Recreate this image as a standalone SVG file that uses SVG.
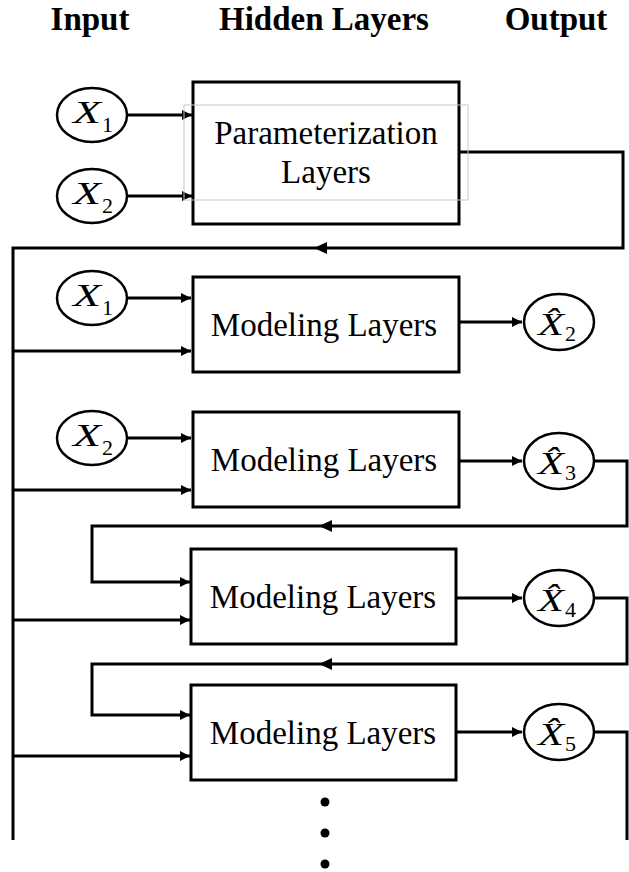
<svg xmlns="http://www.w3.org/2000/svg" width="629" height="872" viewBox="0 0 629 872">
<style>
.box{fill:#fff;stroke:#000;stroke-width:3}
.node{fill:#fff;stroke:#000;stroke-width:2.5}
.ln{fill:none;stroke:#000;stroke-width:3}
.hdr{font-family:"Liberation Serif","Times New Roman",serif;font-weight:bold;font-size:33px;text-anchor:middle}
.lbl{font-family:"Liberation Serif","Times New Roman",serif;font-size:33px;text-anchor:middle}
.mx{font-family:"Liberation Serif","Times New Roman",serif;font-style:italic;font-size:32px}
.sub{font-family:"Liberation Serif","Times New Roman",serif;font-size:22px}
</style>
<defs>
<marker id="ah" viewBox="0 0 10 10" refX="10" refY="5" markerWidth="12" markerHeight="10" markerUnits="userSpaceOnUse" orient="auto">
<path d="M0,0 L10,5 L0,10 z" fill="#000"/>
</marker>
</defs>
<rect width="629" height="872" fill="#fff"/>
<g id="headers">
<text class="hdr" x="90" y="30">Input</text>
<text class="hdr" x="324" y="30">Hidden Layers</text>
<text class="hdr" x="556" y="30">Output</text>
</g>
<g id="connectors">
<path class="ln" d="M128,115 H192" marker-end="url(#ah)"/>
<path class="ln" d="M128,196 H192" marker-end="url(#ah)"/>
<path class="ln" d="M459,152 H623 V248 H13 V840"/>
<polygon points="314,248 327,242 327,254" fill="#000"/>
<path class="ln" d="M128,298 H191" marker-end="url(#ah)"/>
<path class="ln" d="M13,351 H191" marker-end="url(#ah)"/>
<path class="ln" d="M459,322 H522" marker-end="url(#ah)"/>
<path class="ln" d="M128,438 H191" marker-end="url(#ah)"/>
<path class="ln" d="M13,490 H191" marker-end="url(#ah)"/>
<path class="ln" d="M459,461 H522" marker-end="url(#ah)"/>
<path class="ln" d="M595,461 H627 V526 H92 V582 H190" marker-end="url(#ah)"/>
<polygon points="319,526 332,520 332,532" fill="#000"/>
<path class="ln" d="M13,620 H190" marker-end="url(#ah)"/>
<path class="ln" d="M456,598 H522" marker-end="url(#ah)"/>
<path class="ln" d="M595,598 H627 V664 H92 V715 H190" marker-end="url(#ah)"/>
<polygon points="319,664 332,658 332,670" fill="#000"/>
<path class="ln" d="M13,756 H190" marker-end="url(#ah)"/>
<path class="ln" d="M456,732 H522" marker-end="url(#ah)"/>
<path class="ln" d="M595,732 H627 V840"/>
</g>
<g id="param">
<rect class="box" x="193" y="82" width="266" height="142"/>
<rect x="184" y="105" width="284" height="95" fill="none" stroke="#c8c8c8" stroke-width="1"/>
<text class="lbl" x="326" y="144">Parameterization</text>
<text class="lbl" x="326" y="183">Layers</text>
</g>
<g id="x1a">
<ellipse class="node" cx="92" cy="115" rx="35" ry="27"/>
<text class="mx" x="73" y="123" textLength="28" lengthAdjust="spacingAndGlyphs">X</text>
<text class="sub" x="102" y="132">1</text>
</g>
<g id="x2a">
<ellipse class="node" cx="92" cy="196" rx="35" ry="27"/>
<text class="mx" x="73" y="204" textLength="28" lengthAdjust="spacingAndGlyphs">X</text>
<text class="sub" x="102" y="213">2</text>
</g>
<g id="model1">
<rect class="box" x="193" y="277" width="266" height="95"/>
<text class="lbl" x="324" y="336">Modeling Layers</text>
</g>
<g id="x1b">
<ellipse class="node" cx="92" cy="298" rx="35" ry="27"/>
<text class="mx" x="73" y="306" textLength="28" lengthAdjust="spacingAndGlyphs">X</text>
<text class="sub" x="102" y="315">1</text>
</g>
<g id="xh2">
<ellipse class="node" cx="559" cy="322" rx="35" ry="28"/>
<text class="mx" x="538" y="335" textLength="26" lengthAdjust="spacingAndGlyphs">X&#x302;</text>
<text class="sub" x="565" y="341">2</text>
</g>
<g id="model2">
<rect class="box" x="193" y="412" width="266" height="95"/>
<text class="lbl" x="324" y="471">Modeling Layers</text>
</g>
<g id="x2b">
<ellipse class="node" cx="92" cy="438" rx="35" ry="27"/>
<text class="mx" x="73" y="446" textLength="28" lengthAdjust="spacingAndGlyphs">X</text>
<text class="sub" x="102" y="455">2</text>
</g>
<g id="xh3">
<ellipse class="node" cx="559" cy="461" rx="35" ry="28"/>
<text class="mx" x="538" y="474" textLength="26" lengthAdjust="spacingAndGlyphs">X&#x302;</text>
<text class="sub" x="565" y="480">3</text>
</g>
<g id="model3">
<rect class="box" x="191" y="549" width="265" height="95"/>
<text class="lbl" x="323" y="608">Modeling Layers</text>
</g>
<g id="xh4">
<ellipse class="node" cx="559" cy="598" rx="35" ry="28"/>
<text class="mx" x="538" y="611" textLength="26" lengthAdjust="spacingAndGlyphs">X&#x302;</text>
<text class="sub" x="565" y="617">4</text>
</g>
<g id="model4">
<rect class="box" x="191" y="685" width="265" height="95"/>
<text class="lbl" x="323" y="744">Modeling Layers</text>
</g>
<g id="xh5">
<ellipse class="node" cx="559" cy="732" rx="35" ry="28"/>
<text class="mx" x="538" y="745" textLength="26" lengthAdjust="spacingAndGlyphs">X&#x302;</text>
<text class="sub" x="565" y="751">5</text>
</g>
<g id="dots" fill="#000">
<circle cx="325" cy="802" r="4.5"/>
<circle cx="325" cy="833" r="4.5"/>
<circle cx="325" cy="864" r="4.5"/>
</g>
</svg>
